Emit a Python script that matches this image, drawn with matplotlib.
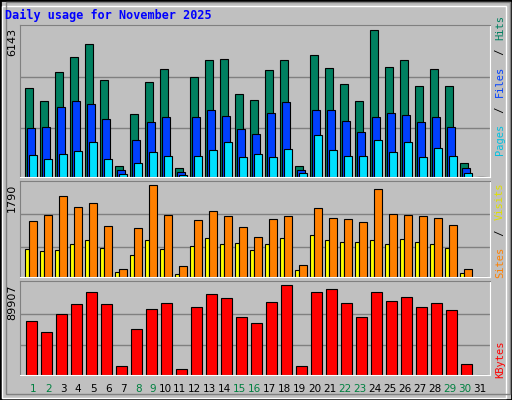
import matplotlib
matplotlib.use("Agg")
import matplotlib.pyplot as plt
import numpy as np
from matplotlib.patches import Rectangle

days = list(range(1, 32))
weekend_days = [1, 2, 8, 9, 15, 16, 22, 23, 29, 30]

hits = [3714, 3169, 4384, 5012, 5557, 4049, 447, 2625, 3965, 4510, 363, 4174, 4886, 4928, 3462,
        3211, 4468, 4886, 447, 5096, 4551, 3881, 3169, 6143, 4593, 4886, 3797, 4510, 3797, 572, 0]
files = [2038, 2080, 2918, 3169, 3043, 2415, 279, 1536, 2290, 2499, 195, 2499, 2792, 2541, 1996,
         1787, 2667, 3127, 279, 2792, 2792, 2331, 1871, 2499, 2667, 2583, 2290, 2499, 2080, 363, 0]
pages = [907, 740, 949, 1075, 1452, 740, 112, 572, 1033, 866, 70, 866, 1117, 1452, 824,
         949, 824, 1159, 154, 1745, 1117, 866, 866, 1536, 1033, 1452, 824, 1201, 866, 154, 0]
visits = [1090, 1206, 1576, 1362, 1440, 992, 156, 953, 1790, 1206, 214, 1109, 1284, 1187, 973,
          778, 1129, 1187, 234, 1343, 1148, 1129, 1070, 1712, 1226, 1206, 1187, 1148, 1012, 156, 0]
sites = [545, 506, 525, 642, 720, 564, 97, 428, 720, 545, 58, 603, 759, 642, 662,
         525, 642, 759, 136, 817, 720, 681, 681, 720, 642, 739, 681, 642, 564, 78, 0]
kbytes = [53350, 42480, 60270, 71140, 82990, 71140, 8890, 45450, 65210, 72120, 5930, 67190, 81020, 77070, 57310,
          51380, 73110, 89907, 8890, 82990, 85960, 72120, 57310, 82990, 74100, 78050, 67190, 72120, 64220, 10870, 0]

BG = "#c0c0c0"
W, H = 512, 400

fig = plt.figure(figsize=(5.12, 4.0), dpi=100, facecolor=BG)
# bevelled border
fig.patches.append(Rectangle((0, 0), 1, 1, transform=fig.transFigure, fill=False, ec="black", lw=2))
fig.patches.append(Rectangle((2 / W, 2 / H), 1 - 8 / W, 1 - 8 / H, transform=fig.transFigure,
                             fill=False, ec="white", lw=1))
fig.patches.append(Rectangle((6 / W, 6 / H), 1 - 8 / W, 1 - 8 / H, transform=fig.transFigure,
                             fill=False, ec="#808080", lw=1))

fig.text(5 / W, 1 - 15 / H, "Daily usage for November 2025", color="#0000ff",
         family="DejaVu Sans Mono", weight="bold", fontsize=8.5, va="center")


def panel(top, bottom, ymax, top_frac):
    ax = fig.add_axes([20 / W, 1 - bottom / H, 470 / W, (bottom - top) / H], facecolor=BG)
    ax.set_xlim(0, 470 / 15)
    ax.set_ylim(0, ymax * top_frac)
    for f in (0.33, 0.68):
        ax.axhline(ymax * f, color="#808080", lw=1, zorder=0)
    ax.set_xticks([])
    ax.set_yticks([])
    for s in ("left", "top"):
        ax.spines[s].set_color("#808080")
    for s in ("right", "bottom"):
        ax.spines[s].set_color("white")
    fig.text(12 / W, 1 - (top + 3) / H, f"{ymax}", rotation=90, ha="center", va="top", fontsize=8)
    return ax


x = np.arange(len(days))

ax1 = panel(25, 177, max(hits), 454 / 440)
ax1.bar(x + 0.35, hits, 0.5, align="edge", color="#008060", ec="black", lw=0.8)
ax1.bar(x + 0.47, files, 0.5, align="edge", color="#0040ff", ec="black", lw=0.8)
ax1.bar(x + 0.6, pages, 0.5, align="edge", color="#00e0ff", ec="black", lw=0.8)

ax2 = panel(181, 277, max(visits), 287 / 276)
ax2.bar(x + 0.35, sites, 0.27, align="edge", color="#ffff00", ec="black", lw=0.8)
ax2.bar(x + 0.62, visits, 0.5, align="edge", color="#ff8000", ec="black", lw=0.8)

ax3 = panel(281, 375, max(kbytes), 284 / 273)
ax3.bar(x + 0.42, kbytes, 0.69, align="edge", color="#ff0000", ec="black", lw=0.8)

# day labels
for d in days:
    c = "#008040" if d in weekend_days else "black"
    fig.text((20 + 15 * (d + 0.1)) / W, 1 - 389 / H, str(d), ha="right", va="center",
             color=c, fontsize=7.5)


def side_label(parts, y_bottom):
    # stacked rotated text pieces, reading bottom to top
    y = y_bottom
    for txt, col in parts:
        t = fig.text(500 / W, y / H, txt, rotation=90, color=col, family="DejaVu Sans Mono",
                     fontsize=7.5, ha="center", va="bottom")
        y += len(txt) * 7.2


side_label([("Pages", "#00c0e0"), (" / ", "black"), ("Files", "#0040ff"),
            (" / ", "black"), ("Hits", "#008060")], 400 - 155)
side_label([("Sites", "#ff8000"), (" / ", "black"), ("Visits", "#e0e000")], 400 - 278)
side_label([("KBytes", "#ff0000")], 400 - 378)

fig.savefig("out.png", dpi=100, facecolor=BG)
